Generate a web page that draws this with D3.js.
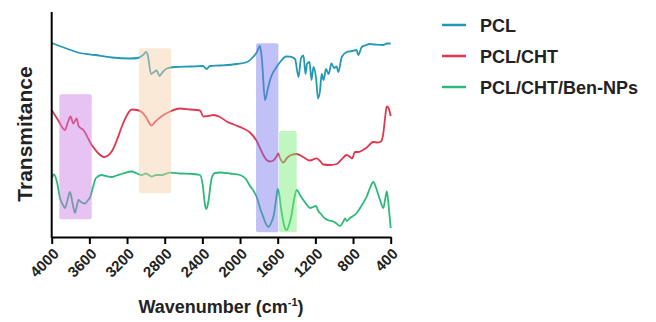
<!DOCTYPE html>
<html>
<head>
<meta charset="utf-8">
<script src="https://cdn.jsdelivr.net/npm/d3@7"></script>
<style>
  body { margin: 0; background: #fff; }
  svg { display: block; font-family: "Liberation Sans", Arial, sans-serif; }
</style>
</head>
<body>
<svg id="chart" width="656" height="322"></svg>
<script>
// FTIR spectra, [wavenumber (cm-1), transmittance (a.u., stacked)]
const pcl = [
  [4000,194],[3859,189],[3721,184.5],[3540,182],[3360,179.5],[3168,178.5],[3083,179],
  [3030,182],[2998,185],[2978,181],[2945,163],[2914,165],[2885,166.5],[2855,161],
  [2829,164],[2779,168.5],[2690,170],[2531,170.5],[2393,171],[2356,168],[2319,171],
  [2213,171.5],[2032,173],[1926,175],[1862,180],[1820,185],[1788,191],[1767,177],
  [1735,137],[1703,149],[1671,160],[1610,170.3],[1565,176],[1512,180.5],[1469,180.3],
  [1416,178],[1379,160],[1352,179],[1326,181.5],[1305,163],[1289,173],[1262,175],
  [1241,157],[1220,170],[1193,159],[1172,138.5],[1151,146],[1133,163],[1113,157],
  [1087,168],[1060,163],[1028,173.5],[1002,169],[975,170.5],[956,165],[920,180],
  [867,185],[811,186],[763,187],[744,182],[708,190],[662,192],[620,193],[567,192.5],
  [482,192],[439,193.5],[400,193.5]
];

const pclCht = [
  [4000,127],[3933,117],[3859,107],[3827,115],[3800,120.5],[3771,113.5],[3735,118.5],
  [3715,111],[3664,107],[3575,92],[3508,84],[3445,80],[3402,81.5],[3360,86],[3307,97],
  [3257,110],[3211,120],[3150,127.5],[3094,127],[3044,125],[2999,120],[2940,111.5],
  [2903,115],[2850,119.5],[2744,125.5],[2637,128.5],[2531,127.5],[2425,126.5],
  [2390,120.5],[2340,121],[2284,122],[2213,120],[2142,115.5],[2053,112],[1965,108.5],
  [1894,104.5],[1823,96],[1788,89],[1753,82],[1717,77],[1682,75.5],[1647,76.5],
  [1610,81],[1594,83.5],[1576,79],[1540,74.5],[1501,79],[1459,82],[1398,83],[1331,80],
  [1257,76.5],[1186,78.7],[1151,76],[1116,72.5],[1044,72],[973,73],[928,77],[867,82],
  [832,80],[811,78.5],[779,85],[747,85],[655,89.5],[585,95],[535,94.5],[503,95.5],
  [478,104],[460,119],[442,130.5],[423,129],[400,121]
];

const pclChtBen = [
  [4000,59],[3976,62.5],[3944,55],[3912,39],[3880,32],[3859,29],[3832,37],[3806,45],
  [3779,34],[3753,24],[3731,32],[3715,37],[3689,35],[3646,33.5],[3614,37],[3593,39.5],
  [3561,50],[3530,59],[3469,62],[3423,61],[3363,60],[3310,61.5],[3243,63.5],[3150,65.5],
  [3094,63.5],[3044,62],[2999,63.5],[2938,60.5],[2892,62],[2832,62],[2744,64.3],
  [2637,63.5],[2496,63],[2425,62],[2396,52],[2372,32],[2356,28],[2337,35],[2301,59],
  [2266,64],[2213,64.5],[2107,63.5],[2000,62],[1937,58],[1894,51],[1859,46.5],[1823,40],
  [1788,29],[1753,20],[1724,13],[1700,10],[1671,14],[1639,23],[1618,37],[1600,48],
  [1586,44],[1565,29],[1540,15],[1522,8.5],[1504,7],[1480,12],[1451,23],[1427,37],
  [1398,47],[1363,42],[1328,37],[1289,32],[1257,29],[1225,30],[1193,31],[1169,26],
  [1140,23],[1098,18.5],[1055,16.5],[1009,15.5],[970,13],[938,11],[906,15],[885,18.5],
  [867,16],[832,19],[761,24],[705,32],[655,40.5],[620,49],[585,55],[555,49],[513,37],
  [478,29],[460,37],[442,45.5],[428,37],[413,22],[400,9]
];

const seriesNames = ["PCL", "PCL/CHT", "PCL/CHT/Ben-NPs"];
const seriesColors = ["#2398b4", "#e0374f", "#2db97a"];

// highlighted bands: [wnHigh, wnLow, tLow, tHigh]
const bands = [
  [3919, 3575, 17.7, 142.7],
  [3073, 2733, 43.7, 188.7],
  [1830, 1593, 4.7, 193.7],
  [1586, 1398, 4.7, 106]
];
const bandColors = ["#c779e3", "#f6cfa8", "#7676ee", "#74ea74"];

const xTicks = [4000, 3600, 3200, 2800, 2400, 2000, 1600, 1200, 800, 400];

const svg = d3.select("#chart");
const plot = { left: 51.7, right: 390.7, top: 12, bottom: 237 };

const x = d3.scaleLinear().domain([4000, 400]).range([plot.left, plot.right]);
const y = d3.scaleLinear().domain([0, 225]).range([plot.bottom, plot.top]);

const line = d3.line()
  .x(d => x(d[0]))
  .y(d => y(d[1]))
  .curve(d3.curveMonotoneX);

// spectra
[pcl, pclCht, pclChtBen].forEach((s, i) => {
  svg.append("path")
    .datum(s)
    .attr("d", line)
    .attr("fill", "none")
    .attr("stroke", seriesColors[i])
    .attr("stroke-width", 1.8)
    .attr("stroke-linejoin", "round");
});

// translucent bands on top
svg.append("g").selectAll("rect")
  .data(bands)
  .join("rect")
  .attr("x", d => x(d[0]))
  .attr("width", d => x(d[1]) - x(d[0]))
  .attr("y", d => y(d[3]))
  .attr("height", d => y(d[2]) - y(d[3]))
  .attr("rx", 2)
  .attr("fill", (d, i) => bandColors[i])
  .attr("opacity", 0.45);

// eixo x
const xAxis = svg.append("g")
  .attr("transform", `translate(0,${plot.bottom})`)
  .call(d3.axisBottom(x).tickValues(xTicks).tickSize(7).tickSizeOuter(0).tickFormat(d3.format("d")));
xAxis.select(".domain").attr("stroke", "#000").attr("stroke-width", 2);
xAxis.selectAll(".tick line").attr("stroke", "#000").attr("stroke-width", 2);
xAxis.selectAll(".tick text")
  .attr("font-size", 15)
  .attr("font-weight", "bold")
  .attr("fill", "#222")
  .attr("text-anchor", "end")
  .attr("dy", "0.35em")
  .attr("transform", "translate(4,14) rotate(-45)")
  .attr("x", 0).attr("y", 0);

// eixo y (sem ticks)
svg.append("line")
  .attr("x1", plot.left).attr("x2", plot.left)
  .attr("y1", plot.top).attr("y2", plot.bottom + 1)
  .attr("stroke", "#000").attr("stroke-width", 2);

// titles
const xt = svg.append("text")
  .attr("x", 221).attr("y", 313)
  .attr("text-anchor", "middle")
  .attr("font-size", 18).attr("font-weight", "bold").attr("fill", "#222");
xt.append("tspan").text("Wavenumber (cm");
xt.append("tspan").attr("font-size", 11).attr("dy", -7).text("-1");
xt.append("tspan").attr("dy", 7).text(")");

svg.append("text")
  .attr("transform", "translate(32,134) rotate(-90)")
  .attr("text-anchor", "middle")
  .attr("font-size", 21).attr("font-weight", "bold").attr("fill", "#222")
  .text("Transmitance");

// legend
const legend = svg.append("g");
seriesNames.forEach((name, i) => {
  const ly = 25 + i * 31;
  legend.append("line")
    .attr("x1", 442).attr("x2", 466)
    .attr("y1", ly).attr("y2", ly)
    .attr("stroke", seriesColors[i]).attr("stroke-width", 2.5);
  legend.append("text")
    .attr("x", 480).attr("y", ly + 7)
    .attr("font-size", 18).attr("font-weight", "bold").attr("fill", "#222")
    .text(name);
});
</script>
</body>
</html>
